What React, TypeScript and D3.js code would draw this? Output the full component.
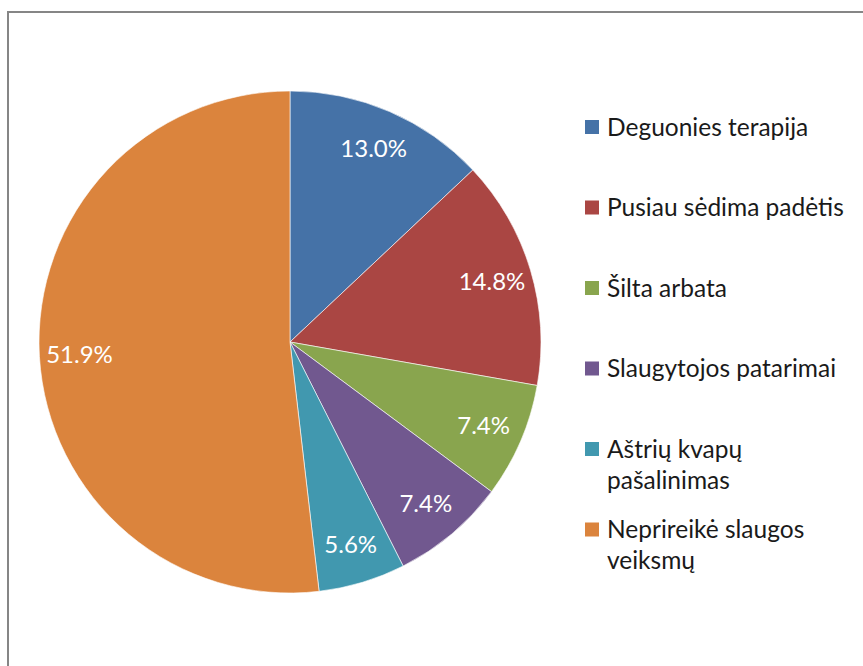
import { useEffect, useRef } from "react";
import * as d3 from "d3";

const categories = [
  "Deguonies terapija",
  "Pusiau sėdima padėtis",
  "Šilta arbata",
  "Slaugytojos patarimai",
  "Aštrių kvapų pašalinimas",
  "Neprireikė slaugos veiksmų",
];
const values = [13.0, 14.8, 7.4, 7.4, 5.6, 51.9];
const colors = ["#4572A7", "#AA4643", "#89A54E", "#71588F", "#4198AF", "#DB843D"];

const W = 863;
const H = 666;
const FONT = "Lato, 'Open Sans', sans-serif";

export default function App() {
  const svgRef = useRef<SVGSVGElement>(null);

  useEffect(() => {
    if (!svgRef.current) return;
    const svg = d3.select(svgRef.current);
    svg.selectAll("*").remove();

    // chart frame (right and bottom edges run off the picture)
    svg
      .append("rect")
      .attr("x", 8)
      .attr("y", 12)
      .attr("width", W + 20)
      .attr("height", H + 20)
      .attr("fill", "#fff")
      .attr("stroke", "#868686")
      .attr("stroke-width", 2);

    const cx = 290;
    const cy = 342;
    const r = 251;

    const pie = d3
      .pie<number>()
      .sort(null)
      .value((d) => d);
    const arcs = pie(values);

    const arc = d3.arc<d3.PieArcDatum<number>>().innerRadius(0).outerRadius(r);
    const labelArc = d3
      .arc<d3.PieArcDatum<number>>()
      .innerRadius(r * 0.84)
      .outerRadius(r * 0.84);

    const g = svg.append("g").attr("transform", `translate(${cx},${cy})`);

    g.selectAll("path.slice")
      .data(arcs)
      .enter()
      .append("path")
      .attr("class", "slice")
      .attr("d", arc)
      .attr("fill", (_d, i) => colors[i])
      .attr("stroke", "#fff")
      .attr("stroke-opacity", 0.6)
      .attr("stroke-width", 1);

    g.selectAll("text.pct")
      .data(arcs)
      .enter()
      .append("text")
      .attr("class", "pct")
      .attr("transform", (d) => `translate(${labelArc.centroid(d)})`)
      .attr("text-anchor", "middle")
      .attr("dy", "0.36em")
      .attr("fill", "#fff")
      .attr("font-family", FONT)
      .attr("font-size", 24)
      .text((d) => `${d.data.toFixed(1)}%`);

    // legend
    const legend = svg.append("g").attr("transform", "translate(585,127)");
    const rowGap = 80.5;
    const maxW = 245;
    const lineH = 31;

    categories.forEach((name, i) => {
      const item = legend.append("g").attr("transform", `translate(0,${i * rowGap})`);
      item
        .append("rect")
        .attr("x", 0)
        .attr("y", -7)
        .attr("width", 14)
        .attr("height", 14)
        .attr("fill", colors[i]);

      const text = item
        .append("text")
        .attr("fill", "#1a1a1a")
        .attr("font-family", FONT)
        .attr("font-size", 24.5);

      // simple word wrap
      const words = name.split(" ");
      let line: string[] = [];
      let lineNo = 0;
      const newLine = (n: number) =>
        text.append("tspan").attr("x", 22).attr("y", n * lineH).attr("dy", "0.36em");
      let tspan = newLine(0);
      words.forEach((w) => {
        line.push(w);
        tspan.text(line.join(" "));
        if ((tspan.node() as SVGTSpanElement).getComputedTextLength() > maxW && line.length > 1) {
          line.pop();
          tspan.text(line.join(" "));
          line = [w];
          lineNo++;
          tspan = newLine(lineNo).text(w);
        }
      });
    });
  }, []);

  return (
    <svg
      ref={svgRef}
      width={W}
      height={H}
      style={{ position: "absolute", left: 0, top: 0 }}
    />
  );
}
